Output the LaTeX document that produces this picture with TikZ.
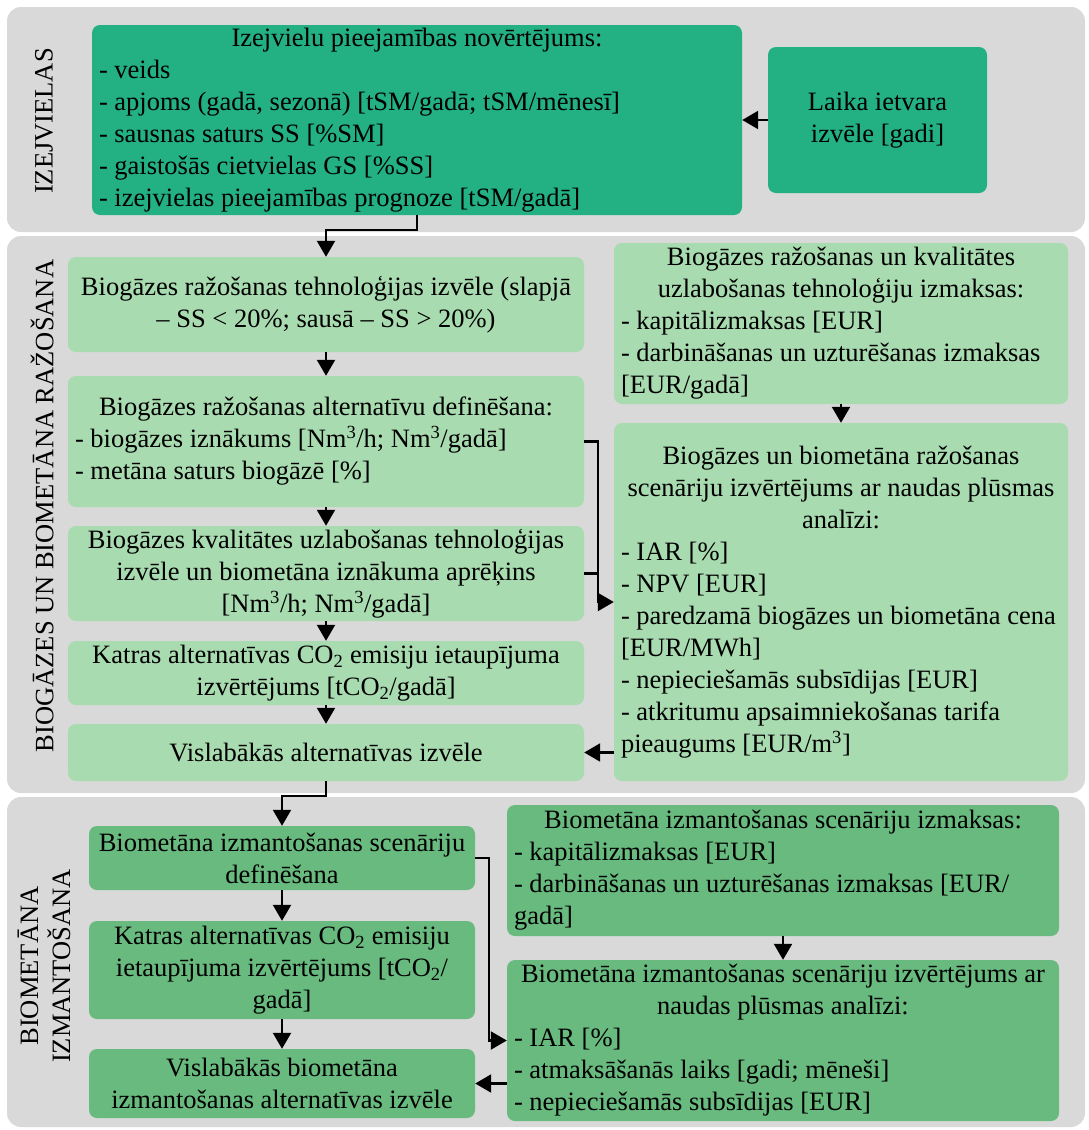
\documentclass[tikz,border=0pt]{standalone}
\usepackage{fontspec}
\setmainfont{Liberation Serif}
\usetikzlibrary{arrows.meta}

\definecolor{panelgray}{RGB}{217,217,217}
\definecolor{tealbox}{RGB}{35,176,130}
\definecolor{lightbox}{RGB}{169,219,176}
\definecolor{midbox}{RGB}{104,186,127}

% one text line: left-aligned or centred across the box width
\newcommand\lft[1]{\hbox{#1}}
\newcommand\ctr[1]{\hbox to\hsize{\hss#1\hss}}

% box given by its corners: style, name, x1, y1, x2, y2, lines
\newcommand\flowbox[7]{%
  \pgfmathsetmacro\fbw{#5-#3}%
  \pgfmathsetmacro\fbh{#6-#4}%
  \pgfmathsetmacro\fbt{#5-#3-14}%
  \node[#1, minimum width=\fbw pt, minimum height=\fbh pt]
    (#2) at ({(#3+#5)/2},{(#4+#6)/2}) {\vbox{\hsize=\fbt pt\relax #7}};}

\begin{document}
\begin{tikzpicture}[x=1pt, y=-1pt,
  font=\fontsize{26.5}{32}\selectfont,
  panel/.style={fill=panelgray, rounded corners=14pt},
  stepbox/.style={rectangle, rounded corners=8pt, inner sep=0pt},
  topbox/.style={stepbox, fill=tealbox},
  prodbox/.style={stepbox, fill=lightbox},
  usebox/.style={stepbox, fill=midbox},
  sidelabel/.style={rotate=90, align=center, inner sep=0pt},
  link/.style={draw, line width=2.2pt},
  arr/.style={link, -{Triangle[length=16pt, width=18pt]}}]

\useasboundingbox (0,0) rectangle (1089,1130);

% section backgrounds
\path[panel] (7,7) rectangle (1085,232);
\path[panel] (7,236) rectangle (1085,793);
\path[panel] (7,797) rectangle (1085,1127);

% section titles
\node[sidelabel] (labRaw) at (44,121) {IZEJVIELAS};
\node[sidelabel] (labProd) at (42,506) {BIOGĀZES UN BIOMETĀNA RAŽOŠANA};
\node[sidelabel] (labUse) at (44,966) {BIOMETĀNA\\IZMANTOŠANA};

% raw materials
\flowbox{topbox}{A}{92}{25}{742}{215}{%
  \ctr{Izejvielu pieejamības novērtējums:}
  \lft{- veids}
  \lft{- apjoms (gadā, sezonā) [tSM/gadā; tSM/mēnesī]}
  \lft{- sausnas saturs SS [\%SM]}
  \lft{- gaistošās cietvielas GS [\%SS]}
  \lft{- izejvielas pieejamības prognoze [tSM/gadā]}}
\flowbox{topbox}{B}{768}{47}{987}{193}{%
  \ctr{Laika ietvara}
  \ctr{izvēle [gadi]}}

% biogas and biomethane production
\flowbox{prodbox}{C}{68}{257}{584}{352}{%
  \ctr{Biogāzes ražošanas tehnoloģijas izvēle (slapjā}
  \ctr{– SS < 20\%; sausā – SS > 20\%)}}
\flowbox{prodbox}{D}{68}{376}{584}{507}{%
  \ctr{Biogāzes ražošanas alternatīvu definēšana:}
  \lft{- biogāzes iznākums [Nm\textsuperscript{3}/h; Nm\textsuperscript{3}/gadā]}
  \lft{- metāna saturs biogāzē [\%]}}
\flowbox{prodbox}{E}{68}{526}{584}{621}{%
  \ctr{Biogāzes kvalitātes uzlabošanas tehnoloģijas}
  \ctr{izvēle un biometāna iznākuma aprēķins}
  \ctr{[Nm\textsuperscript{3}/h; Nm\textsuperscript{3}/gadā]}}
\flowbox{prodbox}{F}{68}{641}{584}{705}{%
  \ctr{Katras alternatīvas CO\textsubscript{2} emisiju ietaupījuma}
  \ctr{izvērtējums [tCO\textsubscript{2}/gadā]}}
\flowbox{prodbox}{G}{68}{724}{584}{781}{%
  \ctr{Vislabākās alternatīvas izvēle}}
\flowbox{prodbox}{H}{614}{243}{1068}{404}{%
  \ctr{Biogāzes ražošanas un kvalitātes}
  \ctr{uzlabošanas tehnoloģiju izmaksas:}
  \lft{- kapitālizmaksas [EUR]}
  \lft{- darbināšanas un uzturēšanas izmaksas}
  \lft{[EUR/gadā]}}
\flowbox{prodbox}{I}{614}{423}{1068}{781}{%
  \ctr{Biogāzes un biometāna ražošanas}
  \ctr{scenāriju izvērtējums ar naudas plūsmas}
  \ctr{analīzi:}
  \lft{- IAR [\%]}
  \lft{- NPV [EUR]}
  \lft{- paredzamā biogāzes un biometāna cena}
  \lft{[EUR/MWh]}
  \lft{- nepieciešamās subsīdijas [EUR]}
  \lft{- atkritumu apsaimniekošanas tarifa}
  \lft{pieaugums [EUR/m\textsuperscript{3}]}}

% biomethane use
\flowbox{usebox}{J}{89}{826}{475}{890}{%
  \ctr{Biometāna izmantošanas scenāriju}
  \ctr{definēšana}}
\flowbox{usebox}{K}{89}{921}{475}{1019}{%
  \ctr{Katras alternatīvas CO\textsubscript{2} emisiju}
  \ctr{ietaupījuma izvērtējums [tCO\textsubscript{2}/}
  \ctr{gadā]}}
\flowbox{usebox}{L}{89}{1049}{475}{1118}{%
  \ctr{Vislabākās biometāna}
  \ctr{izmantošanas alternatīvas izvēle}}
\flowbox{usebox}{M}{507}{805}{1059}{936}{%
  \ctr{Biometāna izmantošanas scenāriju izmaksas:}
  \lft{- kapitālizmaksas [EUR]}
  \lft{- darbināšanas un uzturēšanas izmaksas [EUR/}
  \lft{gadā]}}
\flowbox{usebox}{N}{507}{960}{1059}{1121}{%
  \ctr{Biometāna izmantošanas scenāriju izvērtējums ar}
  \ctr{naudas plūsmas analīzi:}
  \lft{- IAR [\%]}
  \lft{- atmaksāšanās laiks [gadi; mēneši]}
  \lft{- nepieciešamās subsīdijas [EUR]}}

% connectors
\draw[arr] (B.west) -- (A.east |- B.west);
\draw[arr] (A.south) -- ++(0,15) -| (C.north);
\draw[arr] (C) -- (D);
\draw[arr] (D) -- (E);
\draw[arr] (E) -- (F);
\draw[arr] (F) -- (G);
\draw[arr] (H) -- (I);
\path (D.east) ++(14,0) coordinate (joinDE);
\draw[arr] (D.east) -- (joinDE) |- (I.west);
\draw[link] (E.east) -- (E.east -| joinDE);
\draw[arr] (I.west |- G.east) -- (G.east);
\draw[arr] (G.south) -- ++(0,15) -| (J.north);
\draw[arr] (J) -- (K);
\draw[arr] (K) -- (L);
\draw[arr] (M) -- (N);
\draw[arr] (J.east) -- ++(14,0) |- (N.west);
\draw[arr] (N.west |- L.east) -- (L.east);
\end{tikzpicture}
\end{document}
